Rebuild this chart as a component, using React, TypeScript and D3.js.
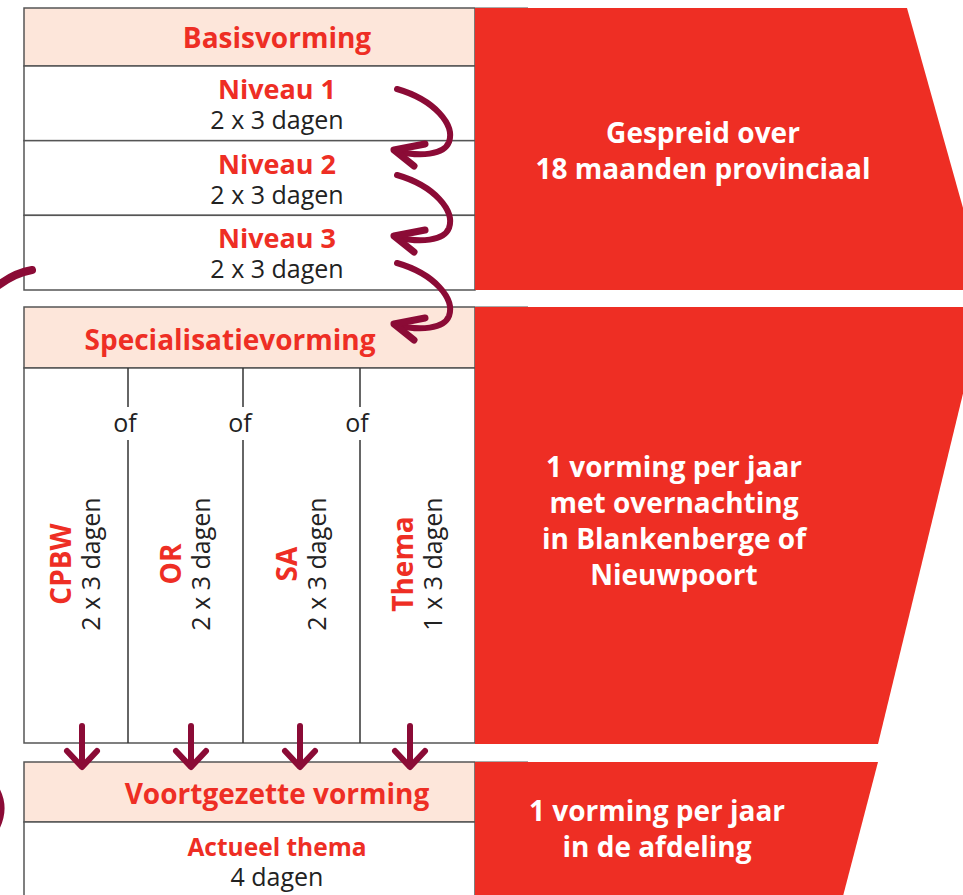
import React, { useEffect } from 'react'
import * as d3 from 'd3'

// content
const sectionTitles = ['Basisvorming', 'Specialisatievorming', 'Voortgezette vorming']
const levels = ['Niveau 1', 'Niveau 2', 'Niveau 3']
const levelDuration = ['2 x 3 dagen', '2 x 3 dagen', '2 x 3 dagen']
const specs = ['CPBW', 'OR', 'SA', 'Thema']
const specDuration = ['2 x 3 dagen', '2 x 3 dagen', '2 x 3 dagen', '1 x 3 dagen']
const followTitle = 'Actueel thema'
const followDuration = '4 dagen'
const noteBasis = ['Gespreid over', '18 maanden provinciaal']
const noteSpec = ['1 vorming per jaar', 'met overnachting', 'in Blankenberge of', 'Nieuwpoort']
const noteFollow = ['1 vorming per jaar', 'in de afdeling']

const W = 963, H = 895
const RED = '#ee2e24'
const PEACH = '#fde6da'
const WINE = '#8b0b36'
const LINE = '#555'
const FONT = '"Open Sans", sans-serif'

const left = 24, split = 475
const colEdges = [24, 128, 243, 360, 475]
const downArrowX = [82, 191, 300, 410]
const curveStartY = [89, 175, 263]

export default function App() {
  useEffect(() => { document.body.style.margin = '0' }, [])

  const rowY = d3.scaleBand<number>().domain(d3.range(levels.length)).range([66, 290])
  const colMid = (i: number) => (colEdges[i] + colEdges[i + 1]) / 2

  const curve = d3.path()
  curve.moveTo(0, 0)
  curve.bezierCurveTo(38, 11, 58, 36, 52, 53)
  curve.bezierCurveTo(47, 66, 23, 68, -1, 62)
  const head = 'M28,55 L-3,61 L17,77'

  const shape1: [number, number][] = [[split, 8], [907, 8], [986, 290], [split, 290]]
  const shape2: [number, number][] = [[split, 307], [984, 307], [878, 744], [split, 744]]
  const shape3: [number, number][] = [[split, 762], [878, 762], [842, 900], [split, 900]]
  const poly = d3.line()

  const whiteLines = (lines: string[], cx: number, y0: number, dy: number) =>
    lines.map((t, i) => (
      <text key={i} x={cx} y={y0 + i * dy} textAnchor="middle" fill="#fff"
        fontFamily={FONT} fontWeight={700} fontSize={28}>{t}</text>
    ))

  return (
    <svg width={W} height={H} style={{ display: 'block' }}>
      <rect width={W} height={H} fill="#fff" />

      {/* Basisvorming block */}
      <rect x={left} y={8} width={split - left} height={58} fill={PEACH} stroke={LINE} strokeWidth={1.5} />
      {levels.map((_, i) => (
        <rect key={i} x={left} y={rowY(i)} width={split - left} height={rowY.bandwidth()}
          fill="#fff" stroke={LINE} strokeWidth={1.5} />
      ))}
      <text x={277} y={48} textAnchor="middle" fill={RED} fontFamily={FONT} fontWeight={700} fontSize={28}>{sectionTitles[0]}</text>
      {levels.map((l, i) => (
        <g key={l}>
          <text x={277} y={(rowY(i) as number) + 33} textAnchor="middle" fill={RED}
            fontFamily={FONT} fontWeight={700} fontSize={27}>{l}</text>
          <text x={277} y={(rowY(i) as number) + 63} textAnchor="middle" fill="#222"
            fontFamily={FONT} fontSize={25}>{levelDuration[i]}</text>
        </g>
      ))}

      {/* Specialisatievorming block */}
      <rect x={left} y={307} width={split - left} height={61} fill={PEACH} stroke={LINE} strokeWidth={1.5} />
      <rect x={left} y={368} width={split - left} height={375} fill="#fff" stroke={LINE} strokeWidth={1.5} />
      <text x={230} y={350} textAnchor="middle" fill={RED} fontFamily={FONT} fontWeight={700} fontSize={28}>{sectionTitles[1]}</text>
      {colEdges.slice(1, -1).map((x, i) => (
        <g key={i}>
          <line x1={x} x2={x} y1={368} y2={407} stroke="#333" strokeWidth={1.5} />
          <line x1={x} x2={x} y1={440} y2={743} stroke="#333" strokeWidth={1.5} />
          <text x={x - 3} y={432} textAnchor="middle" fill="#222" fontFamily={FONT} fontWeight={500} fontSize={25}>of</text>
        </g>
      ))}
      {specs.map((s, i) => {
        const c = colMid(i)
        return (
          <g key={s}>
            <text transform={`translate(${c - 5},564) rotate(-90)`} textAnchor="middle" fill={RED}
              fontFamily={FONT} fontWeight={700} fontSize={28}>{s}</text>
            <text transform={`translate(${c + 24},564) rotate(-90)`} textAnchor="middle" fill="#222"
              fontFamily={FONT} fontSize={25}>{specDuration[i]}</text>
          </g>
        )
      })}

      {/* Voortgezette vorming block */}
      <rect x={left} y={762} width={split - left} height={60} fill={PEACH} stroke={LINE} strokeWidth={1.5} />
      <rect x={left} y={822} width={split - left} height={90} fill="#fff" stroke={LINE} strokeWidth={1.5} />
      <text x={277} y={804} textAnchor="middle" fill={RED} fontFamily={FONT} fontWeight={700} fontSize={28}>{sectionTitles[2]}</text>
      <text x={277} y={856} textAnchor="middle" fill={RED} fontFamily={FONT} fontWeight={700} fontSize={24.5}>{followTitle}</text>
      <text x={277} y={886} textAnchor="middle" fill="#222" fontFamily={FONT} fontSize={25}>{followDuration}</text>

      {/* red panels */}
      {[8, 307, 762].map(y => (
        <line key={y} x1={split} x2={528} y1={y - 0.5} y2={y - 0.5} stroke="#aaa" strokeWidth={1} />
      ))}
      <path d={poly(shape1) + 'Z'} fill={RED} />
      <path d={poly(shape2) + 'Z'} fill={RED} />
      <path d={poly(shape3) + 'Z'} fill={RED} />
      {whiteLines(noteBasis, 703, 143, 36)}
      {whiteLines(noteSpec, 674, 477, 36)}
      {whiteLines(noteFollow, 657, 821, 36)}

      {/* curved arrows */}
      {curveStartY.map(y => (
        <g key={y} transform={`translate(397,${y})`} fill="none" stroke={WINE} strokeLinecap="round" strokeLinejoin="round">
          <path d={curve.toString()} strokeWidth={6} />
          <path d={head} strokeWidth={7} />
        </g>
      ))}

      {/* down arrows */}
      {downArrowX.map(x => (
        <g key={x} fill="none" stroke={WINE} strokeLinecap="round" strokeLinejoin="round" strokeWidth={6}>
          <line x1={x} x2={x} y1={726} y2={766} />
          <path d={`M${x - 15},751 L${x},767 L${x + 15},751`} />
        </g>
      ))}

      {/* pieces of the large loop on the left edge */}
      <path d="M32,270 Q14,273 -4,287" fill="none" stroke={WINE} strokeWidth={8} strokeLinecap="round" />
      <path d="M-6,786 Q7,806 -4,828" fill="none" stroke={WINE} strokeWidth={7} strokeLinecap="round" />
    </svg>
  )
}
